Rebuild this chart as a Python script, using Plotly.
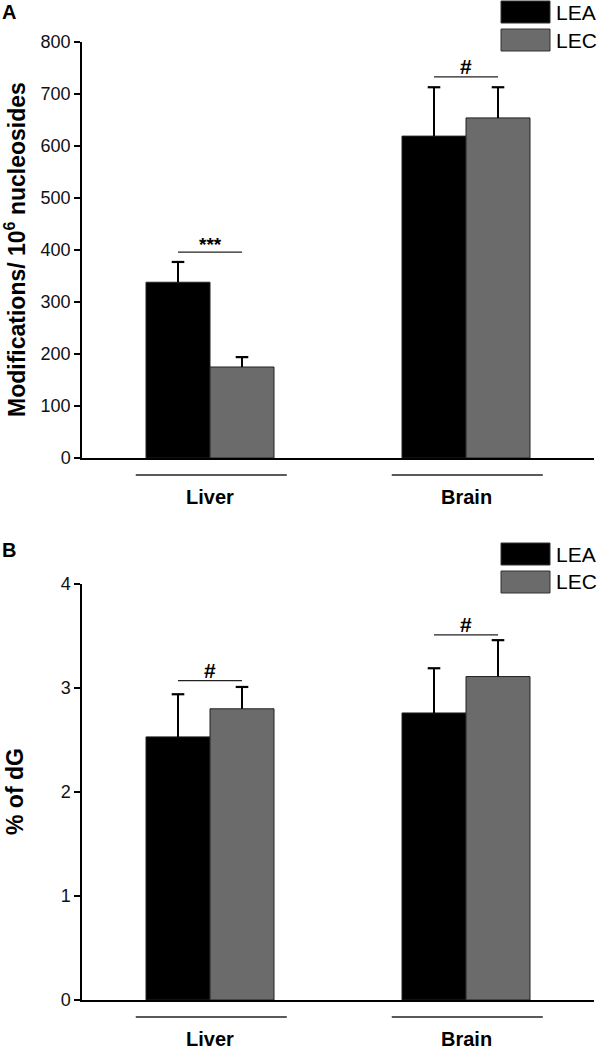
import plotly.graph_objects as go

# ---------------- data ----------------
tissues = ["Liver", "Brain"]
groups = ["LEA", "LEC"]

# Panel A: Modifications / 10^6 nucleosides
a_lea = [338, 619]
a_lea_err = [39, 94]
a_lec = [175, 654]
a_lec_err = [19, 59]
a_sig_labels = ["***", "#"]
a_sig_level = [396, 733]
a_ticks = [0, 100, 200, 300, 400, 500, 600, 700, 800]

# Panel B: % of dG
b_lea = [2.53, 2.76]
b_lea_err = [0.41, 0.43]
b_lec = [2.80, 3.11]
b_lec_err = [0.21, 0.35]
b_sig_labels = ["#", "#"]
b_sig_level = [3.07, 3.51]
b_ticks = [0, 1, 2, 3, 4]

colors = {"LEA": "#000000", "LEC": "#6b6b6b"}
FONT = "Liberation Sans, Arial, Helvetica, sans-serif"

# ---------------- geometry helpers ----------------
W, H = 600, 1050
ML, MR, MT, MB = 82, 6, 42, 50
PW = W - ML - MR
PH = H - MT - MB
BAR_W = 0.25


def px(x):
    """page x (px) -> paper"""
    return (x - ML) / PW


def py(y):
    """page y (px) -> paper"""
    return (H - MB - y) / PH


domA = [py(458), py(42)]
domB = [py(1000), py(584)]

fig = go.Figure()
xpos = list(range(len(tissues)))


def add_panel(xa, ya, lea, lea_err, lec, lec_err):
    for g, vals, errs, off in [("LEA", lea, lea_err, -BAR_W), ("LEC", lec, lec_err, 0.0)]:
        fig.add_trace(go.Bar(
            x=xpos, y=vals, name=g, xaxis=xa, yaxis=ya, width=BAR_W, offset=off,
            marker=dict(color=colors[g], line=dict(color="#222222", width=1)),
            showlegend=False, hoverinfo="skip"))
        ex, ey = [], []
        for i, v, e in zip(xpos, vals, errs):
            c = i + off + BAR_W / 2
            ex += [c, c, None]
            ey += [v, v + e, None]
        fig.add_trace(go.Scatter(
            x=ex, y=ey, mode="lines", xaxis=xa, yaxis=ya,
            line=dict(color="black", width=2), showlegend=False, hoverinfo="skip"))
        fig.add_trace(go.Scatter(
            x=[i + off + BAR_W / 2 for i in xpos], y=[v + e for v, e in zip(vals, errs)],
            mode="markers", xaxis=xa, yaxis=ya,
            marker=dict(symbol="line-ew", size=9, line=dict(color="black", width=2.2)),
            showlegend=False, hoverinfo="skip"))


add_panel("x", "y", a_lea, a_lea_err, a_lec, a_lec_err)
add_panel("x2", "y2", b_lea, b_lea_err, b_lec, b_lec_err)

xcommon = dict(range=[-0.5, 1.5], showline=True, linecolor="black",
               linewidth=1.5, showticklabels=False, ticks="", showgrid=False,
               zeroline=False, fixedrange=True)
ycommon = dict(showline=True, linecolor="black", linewidth=1.5, ticks="outside",
               ticklen=6, tickwidth=1.5, tickcolor="black", showgrid=False,
               zeroline=False, tickfont=dict(family=FONT, size=18, color="#111111"))

fig.update_layout(
    width=W, height=H,
    margin=dict(l=ML, r=MR, t=MT, b=MB),
    paper_bgcolor="white", plot_bgcolor="white",
    font=dict(family=FONT, color="black"),
    xaxis=dict(domain=[0, 1], anchor="y", **xcommon),
    yaxis=dict(domain=domA, anchor="x", range=[0, 800], tickvals=a_ticks, **ycommon),
    xaxis2=dict(domain=[0, 1], anchor="y2", **xcommon),
    yaxis2=dict(domain=domB, anchor="x2", range=[0, 4], tickvals=b_ticks, **ycommon),
)

shapes = []
annotations = []

# significance lines and labels
for xr, yr, labels, levels in [("x", "y", a_sig_labels, a_sig_level),
                               ("x2", "y2", b_sig_labels, b_sig_level)]:
    for i, (lab, lev) in enumerate(zip(labels, levels)):
        shapes.append(dict(type="line", xref=xr, yref=yr, x0=i - BAR_W / 2, x1=i + BAR_W / 2,
                           y0=lev, y1=lev, line=dict(color="#222222", width=1.3)))
        annotations.append(dict(xref=xr, yref=yr, x=i, y=lev, text="<b>%s</b>" % lab,
                                showarrow=False, yanchor="bottom",
                                yshift=-5 if lab == "***" else -3,
                                font=dict(family=FONT, size=19 if lab == "***" else 21,
                                          color="black")))

# group underlines and category labels
for xr, yr in [("x", "y"), ("x2", "y2")]:
    for i, t in enumerate(tissues):
        shapes.append(dict(type="line", xref=xr, yref=yr + " domain", x0=i - 0.29, x1=i + 0.3,
                           y0=-17 / 416, y1=-17 / 416, line=dict(color="#222222", width=1.3)))
        annotations.append(dict(xref=xr, yref=yr + " domain", x=i, y=0, text="<b>%s</b>" % t,
                                showarrow=False, yanchor="middle", yshift=-39,
                                font=dict(family=FONT, size=20, color="black")))

# y-axis titles
annotations.append(dict(xref="paper", yref="paper", x=px(15), y=(domA[0] + domA[1]) / 2,
                        text="<b>Modifications/ 10<sup>6</sup> nucleosides</b>", textangle=-90,
                        showarrow=False, xanchor="center", yanchor="middle",
                        font=dict(family=FONT, size=23, color="black")))
annotations.append(dict(xref="paper", yref="paper", x=px(15), y=(domB[0] + domB[1]) / 2,
                        text="<b>% of dG</b>", textangle=-90,
                        showarrow=False, xanchor="center", yanchor="middle",
                        font=dict(family=FONT, size=23, color="black")))

# panel letters
for letter, yy in [("A", 12), ("B", 550)]:
    annotations.append(dict(xref="paper", yref="paper", x=px(9), y=py(yy),
                            text="<b>%s</b>" % letter, showarrow=False,
                            xanchor="center", yanchor="middle",
                            font=dict(family=FONT, size=20, color="black")))

# legends (boxes + labels)
for top in [0, 542]:
    for j, g in enumerate(groups):
        y0 = top + j * 28
        shapes.append(dict(type="rect", xref="paper", yref="paper",
                           x0=px(501), x1=px(550), y0=py(y0 + 1), y1=py(y0 + 23),
                           fillcolor=colors[g], line=dict(color="#333333", width=1)))
        annotations.append(dict(xref="paper", yref="paper", x=px(554), y=py(y0 + 12),
                                text=g, showarrow=False, xanchor="left", yanchor="middle",
                                font=dict(family=FONT, size=21, color="black")))

fig.update_layout(shapes=shapes, annotations=annotations)

fig.write_html(
    "out.html",
    config={"displayModeBar": False},
    post_script="document.body.style.margin='0';document.body.style.overflow='hidden';",
)
